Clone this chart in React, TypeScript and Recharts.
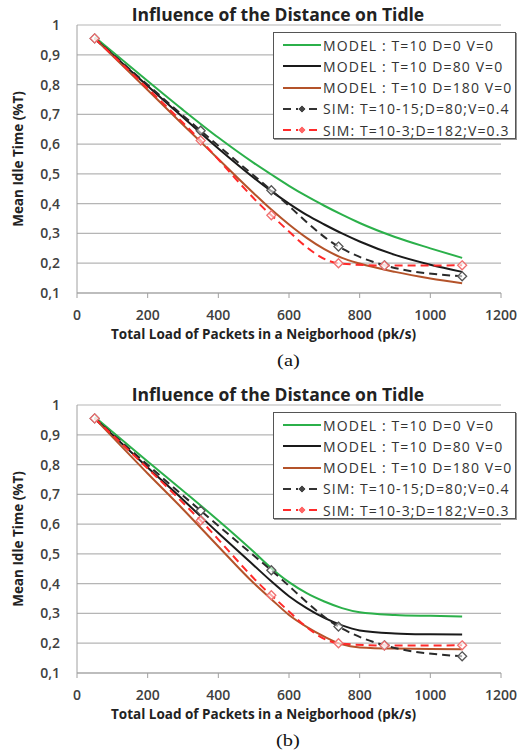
import React from 'react';
import { LineChart, Line, XAxis, YAxis, CartesianGrid } from 'recharts';

// x positions (pk/s)
const modelX = [50, 200, 300, 400, 500, 550, 600, 650, 700, 750, 800, 900, 1000, 1090];
const simX = [50, 350, 550, 740, 870, 1090];

// (a)
const aGreen = [0.96, 0.812, 0.715, 0.622, 0.537, 0.498, 0.46, 0.425, 0.393, 0.363, 0.335, 0.288, 0.25, 0.218];
const aBlack = [0.955, 0.795, 0.69, 0.585, 0.487, 0.442, 0.4, 0.362, 0.33, 0.3, 0.273, 0.228, 0.195, 0.171];
const aBrown = [0.955, 0.782, 0.665, 0.55, 0.435, 0.38, 0.33, 0.285, 0.247, 0.218, 0.199, 0.171, 0.149, 0.133];

// (b)
const bGreen = [0.96, 0.81, 0.712, 0.612, 0.507, 0.452, 0.405, 0.368, 0.34, 0.318, 0.304, 0.295, 0.292, 0.29];
const bBlack = [0.955, 0.79, 0.682, 0.57, 0.462, 0.408, 0.358, 0.318, 0.285, 0.26, 0.243, 0.233, 0.23, 0.229];
const bBrown = [0.955, 0.77, 0.65, 0.525, 0.402, 0.348, 0.295, 0.255, 0.222, 0.196, 0.186, 0.182, 0.181, 0.18];

// simulation points (same runs in both panels)
const simBlack = [0.955, 0.645, 0.445, 0.256, 0.193, 0.156];
const simRed = [0.955, 0.612, 0.361, 0.2, 0.192, 0.193];

const xTicks = [0, 200, 400, 600, 800, 1000, 1200];
const yTicks = [0.1, 0.2, 0.3, 0.4, 0.5, 0.6, 0.7, 0.8, 0.9, 1];

const legendNames = [
  'MODEL : T=10 D=0 V=0',
  'MODEL : T=10 D=80 V=0',
  'MODEL : T=10 D=180 V=0',
  'SIM: T=10-15;D=80;V=0.4',
  'SIM: T=10-3;D=182;V=0.3',
];

const GREEN = '#2bb04a';
const BLACK = '#1a1a1a';
const BROWN = '#b4532a';
const RED = '#ff2a2a';
const FONT = '"Open Sans", Lato, sans-serif';

const toPts = (xs: number[], ys: number[]) => xs.map((x, i) => ({ x, y: ys[i] }));

const fmtY = (v: number) => (v === 1 ? '1' : v.toFixed(1).replace('.', ','));

const Diamond = (stroke: string) => (props: any) => {
  const { cx, cy, index } = props;
  if (cx == null || cy == null) return <g key={index} />;
  const r = 4.5;
  return (
    <polygon
      key={index}
      points={`${cx},${cy - r} ${cx + r},${cy} ${cx},${cy + r} ${cx - r},${cy}`}
      fill="#fff"
      fillOpacity={0.6}
      stroke={stroke}
      strokeWidth={1.3}
    />
  );
};

const LegendBox = () => {
  const rows = [
    { color: GREEN, dash: undefined, marker: false },
    { color: BLACK, dash: undefined, marker: false },
    { color: BROWN, dash: undefined, marker: false },
    { color: '#333', dash: '8 5', marker: true },
    { color: RED, dash: '8 5', marker: true },
  ];
  return (
    <div
      style={{
        position: 'absolute',
        left: 273,
        top: 32,
        width: 241,
        height: 105,
        background: '#fff',
        border: '1.5px solid #555',
        boxShadow: '1px 1px 0 #999',
      }}
    >
      {rows.map((r, i) => (
        <div key={i} style={{ position: 'absolute', left: 8, top: 1 + i * 21.3, height: 22, display: 'flex', alignItems: 'center' }}>
          <svg width={40} height={20}>
            <line x1={1} y1={10} x2={39} y2={10} stroke={r.color} strokeWidth={2} strokeDasharray={r.dash} />
            {r.marker && <polygon points="20,6 24,10 20,14 16,10" fill={r.color === RED ? '#ff6666' : '#444'} stroke="#fff" strokeWidth={0.8} />}
          </svg>
          <span style={{ fontFamily: FONT, fontSize: 14, color: '#333', marginLeft: 1, letterSpacing: 1.1, whiteSpace: 'nowrap' }}>{legendNames[i]}</span>
        </div>
      ))}
    </div>
  );
};

interface PanelProps {
  top: number;
  caption: string;
  green: number[];
  black: number[];
  brown: number[];
}

const tickStyle = { fill: '#404040', fontSize: 14, fontFamily: FONT, fontWeight: 600 };

const Panel: React.FC<PanelProps> = ({ top, caption, green, black, brown }) => (
  <div style={{ position: 'absolute', left: 0, top, width: 517, height: 372 }}>
    <LineChart width={517} height={370} margin={{ top: 25, right: 16, bottom: 47, left: 0 }}>
      <CartesianGrid vertical={false} stroke="#b5b5b5" strokeWidth={1.2} />
      <XAxis
        type="number"
        dataKey="x"
        domain={[0, 1200]}
        ticks={xTicks}
        height={30}
        stroke="#a0a0a0"
        tickSize={5}
        tickMargin={12}
        tick={tickStyle}
      />
      <YAxis
        type="number"
        domain={[0.1, 1]}
        ticks={yTicks}
        width={77}
        tickLine={false}
        axisLine={{ stroke: '#a0a0a0' }}
        tickMargin={11}
        tickFormatter={fmtY}
        tick={tickStyle}
      />
      <Line data={toPts(modelX, green)} dataKey="y" type="monotone" stroke={GREEN} strokeWidth={2} dot={false} isAnimationActive={false} />
      <Line data={toPts(modelX, black)} dataKey="y" type="monotone" stroke={BLACK} strokeWidth={2} dot={false} isAnimationActive={false} />
      <Line data={toPts(modelX, brown)} dataKey="y" type="monotone" stroke={BROWN} strokeWidth={2} dot={false} isAnimationActive={false} />
      <Line data={toPts(simX, simBlack)} dataKey="y" type="monotone" stroke="#2a2a2a" strokeWidth={2} strokeDasharray="8 5" dot={Diamond('#555')} isAnimationActive={false} />
      <Line data={toPts(simX, simRed)} dataKey="y" type="monotone" stroke={RED} strokeWidth={2} strokeDasharray="8 5" dot={Diamond('#f07070')} isAnimationActive={false} />
    </LineChart>
    <div style={{ position: 'absolute', left: 0, width: 556, top: 2, textAlign: 'center', fontFamily: FONT, fontWeight: 700, fontSize: 17.5, color: '#222' }}>
      Influence of the Distance on Tidle
    </div>
    <div
      style={{
        position: 'absolute',
        left: 18,
        top: 159,
        transform: 'translate(-50%, -50%) rotate(-90deg)',
        whiteSpace: 'nowrap',
        fontFamily: FONT,
        fontWeight: 700,
        fontSize: 13.5,
        color: '#222',
      }}
    >
      Mean Idle Time (%T)
    </div>
    <div style={{ position: 'absolute', left: 0, width: 527, top: 325, textAlign: 'center', fontFamily: FONT, fontWeight: 700, fontSize: 13.5, color: '#222' }}>
      Total Load of Packets in a Neigborhood (pk/s)
    </div>
    <div style={{ position: 'absolute', left: 0, width: 576, top: 351, textAlign: 'center', fontFamily: '"Liberation Serif", serif', fontSize: 17, color: '#111' }}>
      <span style={{ display: 'inline-block', transform: 'scaleX(1.2)' }}>{caption}</span>
    </div>
    <LegendBox />
  </div>
);

export default function App() {
  return (
    <div style={{ position: 'absolute', left: 0, top: 0, width: 517, height: 753, background: '#fff', overflow: 'hidden' }}>
      <Panel top={0} caption="(a)" green={aGreen} black={aBlack} brown={aBrown} />
      <Panel top={380} caption="(b)" green={bGreen} black={bBlack} brown={bBrown} />
    </div>
  );
}
